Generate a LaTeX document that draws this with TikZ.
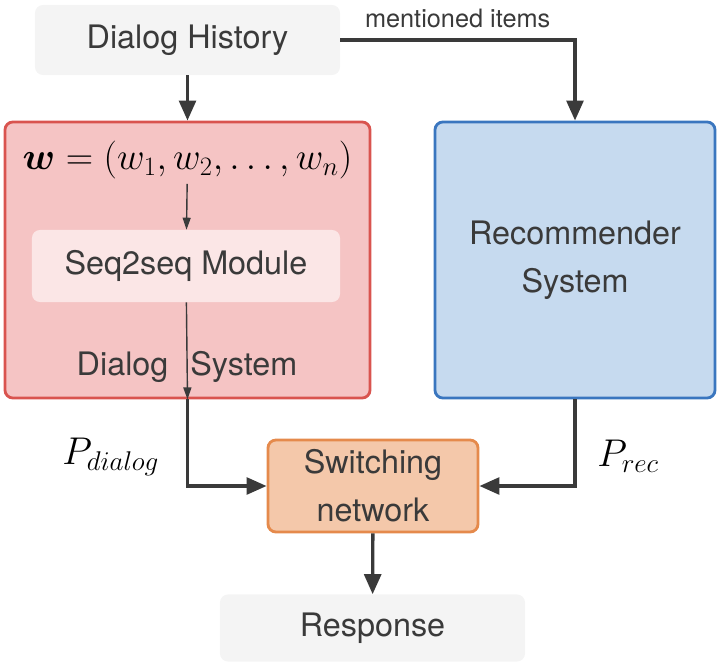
\RequirePackage{fix-cm}
\documentclass[tikz,border=0pt]{standalone}
\usepackage{amsmath,amsfonts,amssymb}
\usepackage{fontspec}
\setsansfont{TeX Gyre Heros}
\usepackage{xcolor}
\usepackage{tikz}
\usetikzlibrary{arrows.meta}

\definecolor{histgray}{HTML}{F4F4F4}
\definecolor{dlgfill}{HTML}{F5C4C4}
\definecolor{dlgline}{HTML}{D9544F}
\definecolor{seqfill}{HTML}{FBE6E6}
\definecolor{recfill}{HTML}{C6DAEF}
\definecolor{recline}{HTML}{3A76BF}
\definecolor{swfill}{HTML}{F4C8AA}
\definecolor{swline}{HTML}{E58A4C}
\definecolor{txtgray}{HTML}{3A3A3A}

\begin{document}
\begin{tikzpicture}[
    x=0.025cm, y=-0.025cm,
    txt/.style={font=\sffamily\fontsize{23}{34}\selectfont, text=txtgray},
    block/.style={rectangle, rounded corners=0.2cm, line width=2pt, txt, align=center},
    softbox/.style={rectangle, rounded corners=0.2cm, fill=histgray, txt},
    flow/.style={draw=txtgray, line width=2.4pt, -{Triangle[length=0.5cm,width=0.42cm]}},
    inflow/.style={draw=txtgray, line width=1pt, -{Triangle[length=0.3cm,width=0.2cm]}},
    prob/.style={text=black, font=\fontsize{27.5}{32}\selectfont}
]
\useasboundingbox (0,0) rectangle (717,665);

% Historique du dialogue
\node[softbox, minimum width=7.625cm, minimum height=1.75cm] (hist) at (187.5,40) {Dialog History};

% Systeme de dialogue
\node[block, draw=dlgline, fill=dlgfill, minimum width=9.125cm, minimum height=6.9cm] (dialog) at (187.5,260) {};
\node[prob, font=\fontsize{27}{32}\selectfont] (wvec) at (187.5,160) {$\boldsymbol{w} = (w_1, w_2, \ldots, w_n)$};
\node[softbox, fill=seqfill, minimum width=7.7cm, minimum height=1.8cm] (seq) at (186,266) {Seq2seq Module};
\node[txt] (dsys) at (187,367) {Dialog\hspace{0.55cm}System};

% Systeme de recommandation
\node[block, draw=recline, fill=recfill, minimum width=7cm, minimum height=6.9cm] (rec) at (575,260) {Recommender\\System};

% Reseau de commutation et sortie
\node[block, draw=swline, fill=swfill, minimum width=5.25cm, minimum height=2.3cm] (switch) at (373,486) {Switching\\network};
\node[softbox, minimum width=7.625cm, minimum height=1.675cm] (resp) at (372.5,628) {Response};

% Connexions
\draw[flow] (hist) -- (dialog);
\draw[flow] (hist.east) -| node[pos=0.25, above=4pt, txt, font=\sffamily\fontsize{18}{20}\selectfont] {mentioned items} (rec.north);
\draw[inflow] (wvec) -- (seq);
\draw[inflow] (seq) -- (dialog.south);
\draw[flow] (dialog.south) |- node[pos=0.33, left=0.55cm, prob] {$P_{dialog}$} (switch.west);
\draw[flow] (rec.south) |- node[pos=0.33, right=0.4cm, prob] {$P_{rec}$} (switch.east);
\draw[flow] (switch) -- (resp);

\end{tikzpicture}
\end{document}
